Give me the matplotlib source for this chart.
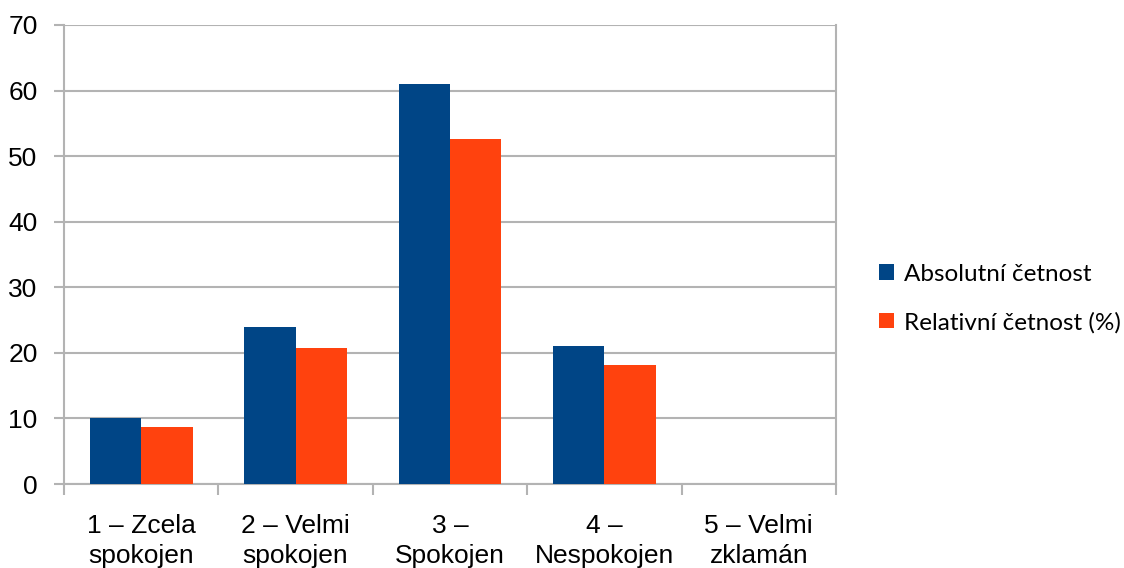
import matplotlib
matplotlib.use("Agg")
import matplotlib.pyplot as plt
import numpy as np

categories = ["1 – Zcela\nspokojen", "2 – Velmi\nspokojen", "3 –\nSpokojen",
              "4 –\nNespokojen", "5 – Velmi\nzklamán"]
absolutni = [10, 24, 61, 21, 0]
relativni = [8.62, 20.69, 52.59, 18.10, 0]
series_names = ["Absolutní četnost", "Relativní četnost (%)"]
colors = ["#004586", "#ff420e"]
grid_color = "#b3b3b3"

plt.rcParams["font.family"] = ["Liberation Sans", "DejaVu Sans"]

fig = plt.figure(figsize=(11.24, 5.68), dpi=100)
ax = fig.add_axes([64 / 1124, 84 / 568, (836 - 64) / 1124, (484 - 25) / 568])

x = np.arange(len(categories))
w = 1 / 3
b1 = ax.bar(x - w / 2, absolutni, width=w, color=colors[0], label=series_names[0], zorder=3)
b2 = ax.bar(x + w / 2, relativni, width=w, color=colors[1], label=series_names[1], zorder=3)

ax.set_xlim(-0.5, len(categories) - 0.5)
ax.set_ylim(0, 70)
ax.set_yticks(range(0, 71, 10))
ax.yaxis.grid(True, color=grid_color, linewidth=1.5, zorder=0)
ax.set_axisbelow(True)

ax.set_xticks(x)
ax.set_xticklabels(categories, fontsize=19, linespacing=1.3)
ax.set_xticks(np.arange(-0.5, len(categories)), minor=True)
ax.tick_params(axis="x", which="major", length=0, pad=21.5)
ax.tick_params(axis="x", which="minor", length=8, width=1.5, color=grid_color)
ax.tick_params(axis="y", length=7, width=1.5, color=grid_color, labelsize=19, pad=12)

for side in ["left", "right", "bottom", "top"]:
    ax.spines[side].set_color(grid_color)
    ax.spines[side].set_linewidth(1.5)
ax.spines["top"].set_visible(False)

leg = fig.legend(handles=[b1, b2], labels=series_names, loc="center left",
                 bbox_to_anchor=(879 / 1124, 1 - 298.5 / 568), frameon=False,
                 prop={"family": "Lato", "size": 17.5}, handlelength=0.62, handleheight=0.62,
                 handletextpad=0.4, labelspacing=1.1, borderpad=0, borderaxespad=0)

fig.savefig("out.png", dpi=100)
